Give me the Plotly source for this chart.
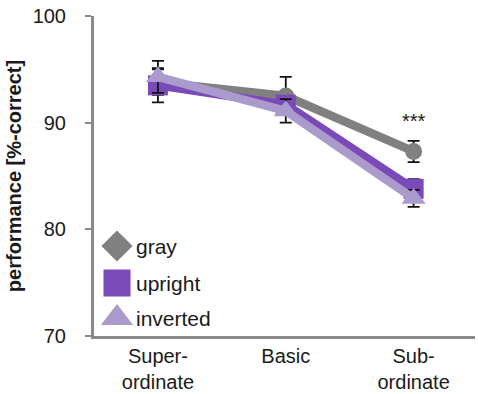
import plotly.graph_objects as go

# Category levels and mean performance (% correct) with error bars
levels = ["Super-<br>ordinate", "Basic", "Sub-<br>ordinate"]
gray_mean = [93.8, 92.5, 87.3]
gray_err = [1.2, 1.8, 1.0]
upright_mean = [93.5, 91.7, 83.8]
upright_err = [1.6, 0.6, 0.9]
inverted_mean = [94.3, 91.1, 82.9]
inverted_err = [1.5, 1.1, 0.8]

series_names = ["gray", "upright", "inverted"]
series_colors = ["#808080", "#7a4bb8", "#ab9bcc"]
series_symbols = ["circle", "square", "triangle-up"]
legend_symbols = ["diamond", "square", "triangle-up"]
series_sizes = [17, 20, 21]

FONT = "Liberation Sans, Arial, sans-serif"
TEXT = "#1a1a1a"
AXIS = "#8a8a8a"

xs = list(range(len(levels)))
fig = go.Figure()

for name, mean, err, color, sym, size in zip(
    series_names,
    [gray_mean, upright_mean, inverted_mean],
    [gray_err, upright_err, inverted_err],
    series_colors, series_symbols, series_sizes,
):
    fig.add_trace(go.Scatter(
        x=xs, y=mean, mode="lines+markers", name=name,
        line=dict(color=color, width=8.5),
        marker=dict(symbol=sym, size=size, color=color, line=dict(width=0)),
        error_y=dict(type="data", array=err, visible=True,
                     color="#111111", thickness=1.8, width=6),
        showlegend=False,
    ))

# Significance marker for the sub-ordinate level
fig.add_annotation(x=2, y=gray_mean[2] + 1.6, text="***", showarrow=False,
                   font=dict(family=FONT, size=20, color=TEXT), yanchor="bottom")

# Hand-drawn legend in the lower-left of the plot area
legend_y = [246, 283, 318]
legend_sizes = [24, 27, 28]
for name, color, sym, ly, sz in zip(series_names, series_colors,
                                     legend_symbols, legend_y, legend_sizes):
    fig.add_trace(go.Scatter(
        x=[117], y=[ly], mode="markers", xaxis="x2", yaxis="y2",
        marker=dict(symbol=sym, size=sz, color=color, line=dict(width=0)),
        showlegend=False, hoverinfo="skip",
    ))
    fig.add_annotation(x=134, y=ly, xref="x2", yref="y2", text=name,
                       showarrow=False, xanchor="left", yanchor="middle",
                       font=dict(family=FONT, size=21, color=TEXT))

fig.update_layout(
    width=478, height=394,
    margin=dict(l=94, r=3, t=16, b=58),
    paper_bgcolor="white", plot_bgcolor="white",
    font=dict(family=FONT, size=20, color=TEXT),
    xaxis=dict(
        range=[-0.5, 2.48], tickmode="array", tickvals=xs, ticktext=levels,
        showgrid=False, zeroline=False, showline=True, linecolor=AXIS,
        linewidth=3, ticks="", tickfont=dict(size=20, color=TEXT),
        automargin=False,
    ),
    yaxis=dict(
        range=[70, 100], tickvals=[70, 80, 90, 100], showgrid=False,
        zeroline=False, showline=True, linecolor=AXIS, linewidth=3,
        ticks="outside", ticklen=6, tickwidth=2, tickcolor=AXIS,
        tickfont=dict(size=20, color=TEXT), ticklabelstandoff=15,
        title=dict(text="<b>performance [%-correct]</b>",
                   font=dict(size=20, color=TEXT), standoff=6),
    ),
    xaxis2=dict(range=[94, 475], overlaying="x", visible=False, fixedrange=True),
    yaxis2=dict(range=[336, 16], overlaying="y", visible=False, fixedrange=True),
)

fig.write_html("out.html")
